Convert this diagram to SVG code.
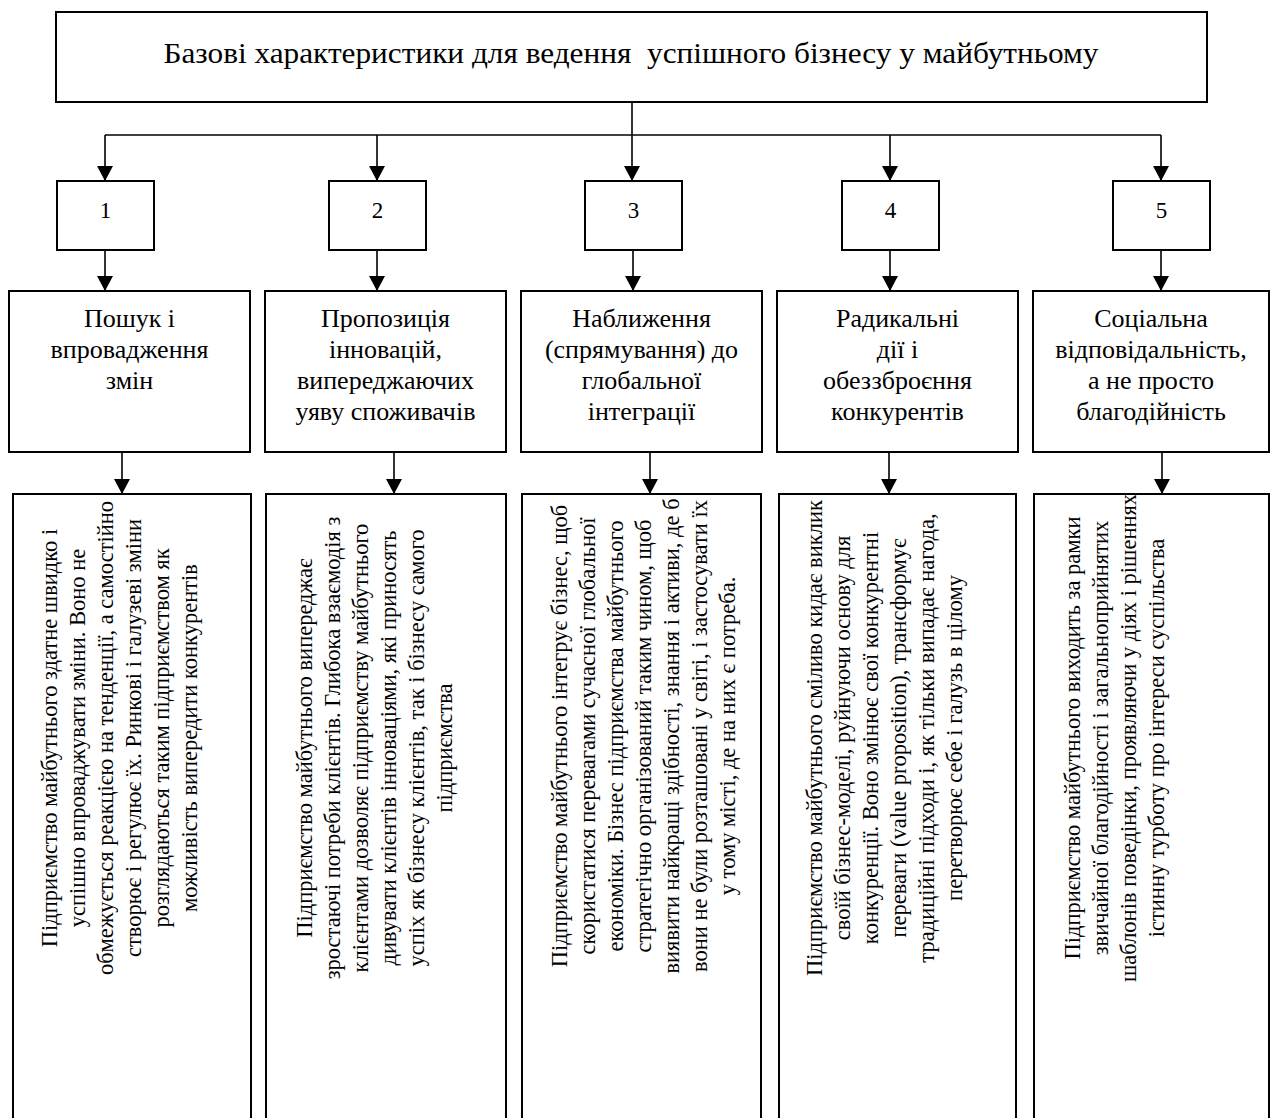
<svg xmlns="http://www.w3.org/2000/svg" width="1272" height="1118" viewBox="0 0 1272 1118">
<defs>
<marker id="arr" markerUnits="userSpaceOnUse" markerWidth="16" markerHeight="17" refX="15" refY="8" orient="auto">
<path d="M0,0 L15,8 L0,16 Z" fill="#000"/>
</marker>
<style>
.box{fill:#fff;stroke:#000;stroke-width:2}
.open{fill:none;stroke:#000;stroke-width:2}
.ln{fill:none;stroke:#000;stroke-width:1.6}
text{font-family:"Liberation Serif","Times New Roman",serif;fill:#000}
.title{font-size:29px}
.num{font-size:23px;text-anchor:middle}
.head{font-size:26px;text-anchor:middle}
.body{font-size:22.5px;text-anchor:middle}
</style>
</defs>
<rect width="1272" height="1118" fill="#fff"/>

<g id="connectors">
<path class="ln" d="M632,102 V181" marker-end="url(#arr)"/>
<path class="ln" d="M105,135 H1161"/>
<path class="ln" d="M105,135 V181" marker-end="url(#arr)"/>
<path class="ln" d="M377,135 V181" marker-end="url(#arr)"/>
<path class="ln" d="M890,135 V181" marker-end="url(#arr)"/>
<path class="ln" d="M1161,135 V181" marker-end="url(#arr)"/>
<path class="ln" d="M105,250 V291" marker-end="url(#arr)"/>
<path class="ln" d="M377,250 V291" marker-end="url(#arr)"/>
<path class="ln" d="M633,250 V291" marker-end="url(#arr)"/>
<path class="ln" d="M890,250 V291" marker-end="url(#arr)"/>
<path class="ln" d="M1161,250 V291" marker-end="url(#arr)"/>
<path class="ln" d="M122,452 V494" marker-end="url(#arr)"/>
<path class="ln" d="M394,452 V494" marker-end="url(#arr)"/>
<path class="ln" d="M650,452 V494" marker-end="url(#arr)"/>
<path class="ln" d="M889,452 V494" marker-end="url(#arr)"/>
<path class="ln" d="M1162,452 V494" marker-end="url(#arr)"/>
</g>

<g id="root">
<rect class="box" x="56" y="12" width="1151" height="90"/>
<text class="title" x="631" y="63" text-anchor="middle" xml:space="preserve" textLength="935" lengthAdjust="spacingAndGlyphs">Базові характеристики для ведення  успішного бізнесу у майбутньому</text>
</g>

<g id="n1"><rect class="box" x="57" y="181" width="97" height="69"/><text class="num" x="105.5" y="218">1</text></g>
<g id="n2"><rect class="box" x="329" y="181" width="97" height="69"/><text class="num" x="377.5" y="218">2</text></g>
<g id="n3"><rect class="box" x="585" y="181" width="97" height="69"/><text class="num" x="633.5" y="218">3</text></g>
<g id="n4"><rect class="box" x="842" y="181" width="97" height="69"/><text class="num" x="890.5" y="218">4</text></g>
<g id="n5"><rect class="box" x="1113" y="181" width="97" height="69"/><text class="num" x="1161.5" y="218">5</text></g>

<g id="h1"><rect class="box" x="9" y="291" width="241" height="161"/>
<text class="head" x="129.5" y="327">Пошук і</text>
<text class="head" x="129.5" y="358">впровадження</text>
<text class="head" x="129.5" y="389">змін</text></g>
<g id="h2"><rect class="box" x="265" y="291" width="241" height="161"/>
<text class="head" x="385.5" y="327">Пропозиція</text>
<text class="head" x="385.5" y="358">інновацій,</text>
<text class="head" x="385.5" y="389">випереджаючих</text>
<text class="head" x="385.5" y="420">уяву споживачів</text></g>
<g id="h3"><rect class="box" x="521" y="291" width="241" height="161"/>
<text class="head" x="641.5" y="327">Наближення</text>
<text class="head" x="641.5" y="358">(спрямування) до</text>
<text class="head" x="641.5" y="389">глобальної</text>
<text class="head" x="641.5" y="420">інтеграції</text></g>
<g id="h4"><rect class="box" x="777" y="291" width="241" height="161"/>
<text class="head" x="897.5" y="327">Радикальні</text>
<text class="head" x="897.5" y="358">дії і</text>
<text class="head" x="897.5" y="389">обеззброєння</text>
<text class="head" x="897.5" y="420">конкурентів</text></g>
<g id="h5"><rect class="box" x="1033" y="291" width="236" height="161"/>
<text class="head" x="1151" y="327">Соціальна</text>
<text class="head" x="1151" y="358">відповідальність,</text>
<text class="head" x="1151" y="389">а не просто</text>
<text class="head" x="1151" y="420">благодійність</text></g>

<g id="d1"><path class="open" d="M13,1120 V494 H251 V1120"/>
<text class="body" transform="translate(57,738) rotate(-90)">Підприємство майбутнього здатне швидко і</text>
<text class="body" transform="translate(85,738) rotate(-90)">успішно впроваджувати зміни. Воно не</text>
<text class="body" transform="translate(113,738) rotate(-90)">обмежується реакцією на тенденції, а самостійно</text>
<text class="body" transform="translate(141,738) rotate(-90)">створює і регулює їх. Ринкові і галузеві зміни</text>
<text class="body" transform="translate(169,738) rotate(-90)">розглядаються таким підприємством як</text>
<text class="body" transform="translate(197,738) rotate(-90)">можливість випередити конкурентів</text></g>

<g id="d2"><path class="open" d="M266,1120 V494 H506 V1120"/>
<text class="body" transform="translate(312,748) rotate(-90)">Підприємство майбутнього випереджає</text>
<text class="body" transform="translate(340,748) rotate(-90)">зростаючі потреби клієнтів. Глибока взаємодія з</text>
<text class="body" transform="translate(368,748) rotate(-90)">клієнтами дозволяє підприємству майбутнього</text>
<text class="body" transform="translate(396,748) rotate(-90)">дивувати клієнтів інноваціями, які приносять</text>
<text class="body" transform="translate(424,748) rotate(-90)">успіх як бізнесу клієнтів, так і бізнесу самого</text>
<text class="body" transform="translate(452,748) rotate(-90)">підприємства</text></g>

<g id="d3"><path class="open" d="M522,1120 V494 H761 V1120"/>
<text class="body" transform="translate(567,736) rotate(-90)">Підприємство майбутнього інтегрує бізнес, щоб</text>
<text class="body" transform="translate(595,736) rotate(-90)">скористатися перевагами сучасної глобальної</text>
<text class="body" transform="translate(623,736) rotate(-90)">економіки. Бізнес підприємства майбутнього</text>
<text class="body" transform="translate(651,736) rotate(-90)">стратегічно організований таким чином, щоб</text>
<text class="body" transform="translate(679,736) rotate(-90)">виявити найкращі здібності, знання і активи, де б</text>
<text class="body" transform="translate(707,736) rotate(-90)">вони не були розташовані у світі, і застосувати їх</text>
<text class="body" transform="translate(735,736) rotate(-90)">у тому місті, де на них є потреба.</text></g>

<g id="d4"><path class="open" d="M779,1120 V494 H1016 V1120"/>
<text class="body" transform="translate(822,738) rotate(-90)">Підприємство майбутнього сміливо кидає виклик</text>
<text class="body" transform="translate(850,738) rotate(-90)">своїй бізнес-моделі, руйнуючи основу для</text>
<text class="body" transform="translate(878,738) rotate(-90)">конкуренції. Воно змінює свої конкурентні</text>
<text class="body" transform="translate(906,738) rotate(-90)">переваги (value proposition), трансформує</text>
<text class="body" transform="translate(934,738) rotate(-90)">традиційні підходи і, як тільки випадає нагода,</text>
<text class="body" transform="translate(962,738) rotate(-90)">перетворює себе і галузь в цілому</text></g>

<g id="d5"><path class="open" d="M1034,1120 V494 H1269 V1120"/>
<text class="body" transform="translate(1080,738) rotate(-90)">Підприємство майбутнього виходить за рамки</text>
<text class="body" transform="translate(1108,738) rotate(-90)">звичайної благодійності і загальноприйнятих</text>
<text class="body" transform="translate(1136,738) rotate(-90)">шаблонів поведінки, проявляючи у діях і рішеннях</text>
<text class="body" transform="translate(1164,738) rotate(-90)">істинну турботу про інтереси суспільства</text></g>
</svg>
